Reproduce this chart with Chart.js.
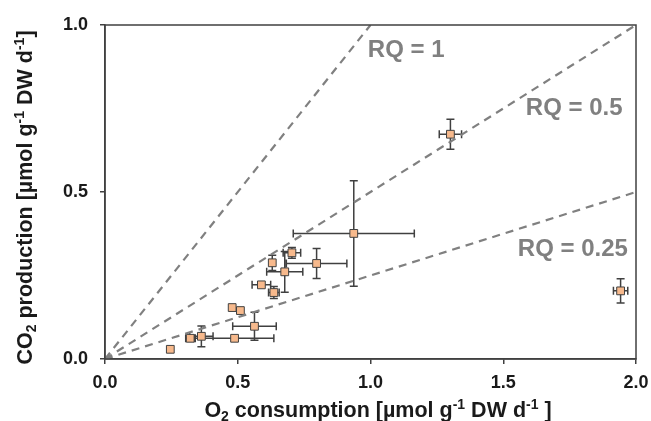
<!DOCTYPE html>
<html>
<head>
<meta charset="utf-8">
<script src="https://cdn.jsdelivr.net/npm/chart.js@4.4.1/dist/chart.umd.min.js"></script>
<style>
  html, body { margin: 0; padding: 0; background: #fff; }
  canvas { display: block; }
</style>
</head>
<body>
<canvas id="chart" width="651" height="421"></canvas>
<script>
// O2 consumption (x) and CO2 production (y), with +/- error bars
const o2 = [0.246, 0.321, 0.363, 0.488, 0.563, 0.479, 0.51, 0.589, 0.636, 0.63, 0.677, 0.704, 0.797, 0.937, 1.301, 1.942]
const co2 = [0.029, 0.062, 0.068, 0.062, 0.098, 0.154, 0.145, 0.222, 0.199, 0.288, 0.261, 0.318, 0.286, 0.376, 0.673, 0.204]
const o2Err = [0, 0.017, 0.044, 0.148, 0.082, 0, 0, 0.035, 0.02, 0, 0.068, 0.033, 0.114, 0.228, 0.042, 0.027]
const co2Err = [0, 0, 0.031, 0, 0.042, 0, 0, 0, 0.018, 0.023, 0.061, 0.016, 0.045, 0.158, 0.045, 0.036]

// reference lines (respiratory quotient) and their labels
const rqValues = [1, 0.5, 0.25]
const rqLabels = ['RQ = 1', 'RQ = 0.5', 'RQ = 0.25']
const rqLabelX = [0.99, 1.585, 1.555]
const rqLabelY = [0.925, 0.751, 0.329]

const xTicks = [0, 0.5, 1, 1.5, 2]
const yTicks = [0, 0.5, 1]

const FONT = '"Liberation Sans", Arial, sans-serif'
const AXIS_COLOR = '#404040'
const TEXT_COLOR = '#1a1a1a'

const X_MAX = 2
const Y_MAX = 1

const rqDatasets = rqValues.map((rq) => {
  const xEnd = Math.min(X_MAX, Y_MAX / rq)
  return {
    type: 'line',
    data: [{ x: 0, y: 0 }, { x: xEnd, y: xEnd * rq }],
    borderColor: '#808080',
    borderWidth: 2.2,
    borderDash: [8, 6],
    pointRadius: 0,
    fill: false
  }
})

const points = o2.map((x, i) => ({ x: x, y: co2[i] }))

// draws text with sub/superscript pieces, centred on (cx, cy)
function drawRich(ctx, parts, cx, cy, size, rotate) {
  ctx.save()
  ctx.translate(cx, cy)
  if (rotate) ctx.rotate(-Math.PI / 2)
  const small = Math.round(size * 0.65)
  let total = 0
  parts.forEach((p) => {
    ctx.font = 'bold ' + (p.sub || p.sup ? small : size) + 'px ' + FONT
    p.w = ctx.measureText(p.t).width
    total += p.w
  })
  let x = -total / 2
  ctx.textBaseline = 'alphabetic'
  ctx.textAlign = 'left'
  ctx.fillStyle = TEXT_COLOR
  const base = size * 0.36
  parts.forEach((p) => {
    ctx.font = 'bold ' + (p.sub || p.sup ? small : size) + 'px ' + FONT
    let y = base
    if (p.sub) y += size * 0.2
    if (p.sup) y -= size * 0.38
    ctx.fillText(p.t, x, y)
    x += p.w
  })
  ctx.restore()
}

const errorBars = {
  id: 'errorBars',
  beforeDatasetDraw(chart, args) {
    if (args.index !== 3) return
    const { ctx, scales: { x, y } } = chart
    const cap = 4
    ctx.save()
    ctx.strokeStyle = AXIS_COLOR
    ctx.lineWidth = 1.5
    ctx.beginPath()
    o2.forEach((v, i) => {
      const px = x.getPixelForValue(v)
      const py = y.getPixelForValue(co2[i])
      if (o2Err[i] > 0) {
        const l = x.getPixelForValue(v - o2Err[i])
        const r = x.getPixelForValue(v + o2Err[i])
        ctx.moveTo(l, py); ctx.lineTo(r, py)
        ctx.moveTo(l, py - cap); ctx.lineTo(l, py + cap)
        ctx.moveTo(r, py - cap); ctx.lineTo(r, py + cap)
      }
      if (co2Err[i] > 0) {
        const t = y.getPixelForValue(co2[i] + co2Err[i])
        const b = y.getPixelForValue(co2[i] - co2Err[i])
        ctx.moveTo(px, t); ctx.lineTo(px, b)
        ctx.moveTo(px - cap, t); ctx.lineTo(px + cap, t)
        ctx.moveTo(px - cap, b); ctx.lineTo(px + cap, b)
      }
    })
    ctx.stroke()
    ctx.restore()
  }
}

const decorations = {
  id: 'decorations',
  afterDraw(chart) {
    const { ctx, chartArea: a, scales: { x, y } } = chart
    ctx.save()
    // plot frame
    ctx.strokeStyle = AXIS_COLOR
    ctx.lineWidth = 1.5
    ctx.strokeRect(a.left, a.top, a.right - a.left, a.bottom - a.top)
    // RQ labels
    ctx.font = 'bold 24px ' + FONT
    ctx.fillStyle = '#808080'
    ctx.textAlign = 'left'
    ctx.textBaseline = 'middle'
    rqLabels.forEach((t, i) => {
      ctx.fillText(t, x.getPixelForValue(rqLabelX[i]), y.getPixelForValue(rqLabelY[i]))
    })
    ctx.restore()
    // axis titles
    drawRich(ctx, [
      { t: 'O' }, { t: '2', sub: true }, { t: ' consumption [µmol g' },
      { t: '-1', sup: true }, { t: ' DW d' }, { t: '-1', sup: true }, { t: ' ]' }
    ], 378, 409, 21.5, false)
    drawRich(ctx, [
      { t: 'CO' }, { t: '2', sub: true }, { t: ' production [µmol g' },
      { t: '-1', sup: true }, { t: ' DW d' }, { t: '-1', sup: true }, { t: ']' }
    ], 24, 197.5, 21.5, true)
  }
}

new Chart(document.getElementById('chart'), {
  type: 'scatter',
  plugins: [errorBars, decorations],
  data: {
    datasets: [
      ...rqDatasets,
      {
        type: 'scatter',
        data: points,
        pointStyle: 'rect',
        pointRadius: 5.5,
        pointBackgroundColor: '#F7B98C',
        pointBorderColor: AXIS_COLOR,
        pointBorderWidth: 1
      }
    ]
  },
  options: {
    responsive: false,
    animation: false,
    devicePixelRatio: 1,
    layout: { padding: { left: 0, right: 15, top: 25, bottom: 0 } },
    plugins: {
      legend: { display: false },
      tooltip: { enabled: false }
    },
    scales: {
      x: {
        type: 'linear',
        min: 0,
        max: X_MAX,
        afterFit: (s) => { s.height = 62; s.paddingLeft = 0; s.paddingRight = 0 },
        afterBuildTicks: (s) => { s.ticks = xTicks.map((v) => ({ value: v })) },
        border: { display: true, color: AXIS_COLOR, width: 1.5 },
        grid: { drawOnChartArea: false, color: AXIS_COLOR, lineWidth: 1.5, tickLength: 5 },
        ticks: {
          color: TEXT_COLOR,
          padding: 8,
          font: { family: FONT, size: 18, weight: 'bold' },
          callback: (v) => Number(v).toFixed(1)
        }
      },
      y: {
        type: 'linear',
        min: 0,
        max: Y_MAX,
        afterFit: (s) => { s.width = 105; s.paddingTop = 0; s.paddingBottom = 0 },
        afterBuildTicks: (s) => { s.ticks = yTicks.map((v) => ({ value: v })) },
        border: { display: true, color: AXIS_COLOR, width: 1.5 },
        grid: { drawOnChartArea: false, color: AXIS_COLOR, lineWidth: 1.5, tickLength: 5 },
        ticks: {
          color: TEXT_COLOR,
          padding: 12,
          font: { family: FONT, size: 18, weight: 'bold' },
          callback: (v) => Number(v).toFixed(1)
        }
      }
    }
  }
})
</script>
</body>
</html>
